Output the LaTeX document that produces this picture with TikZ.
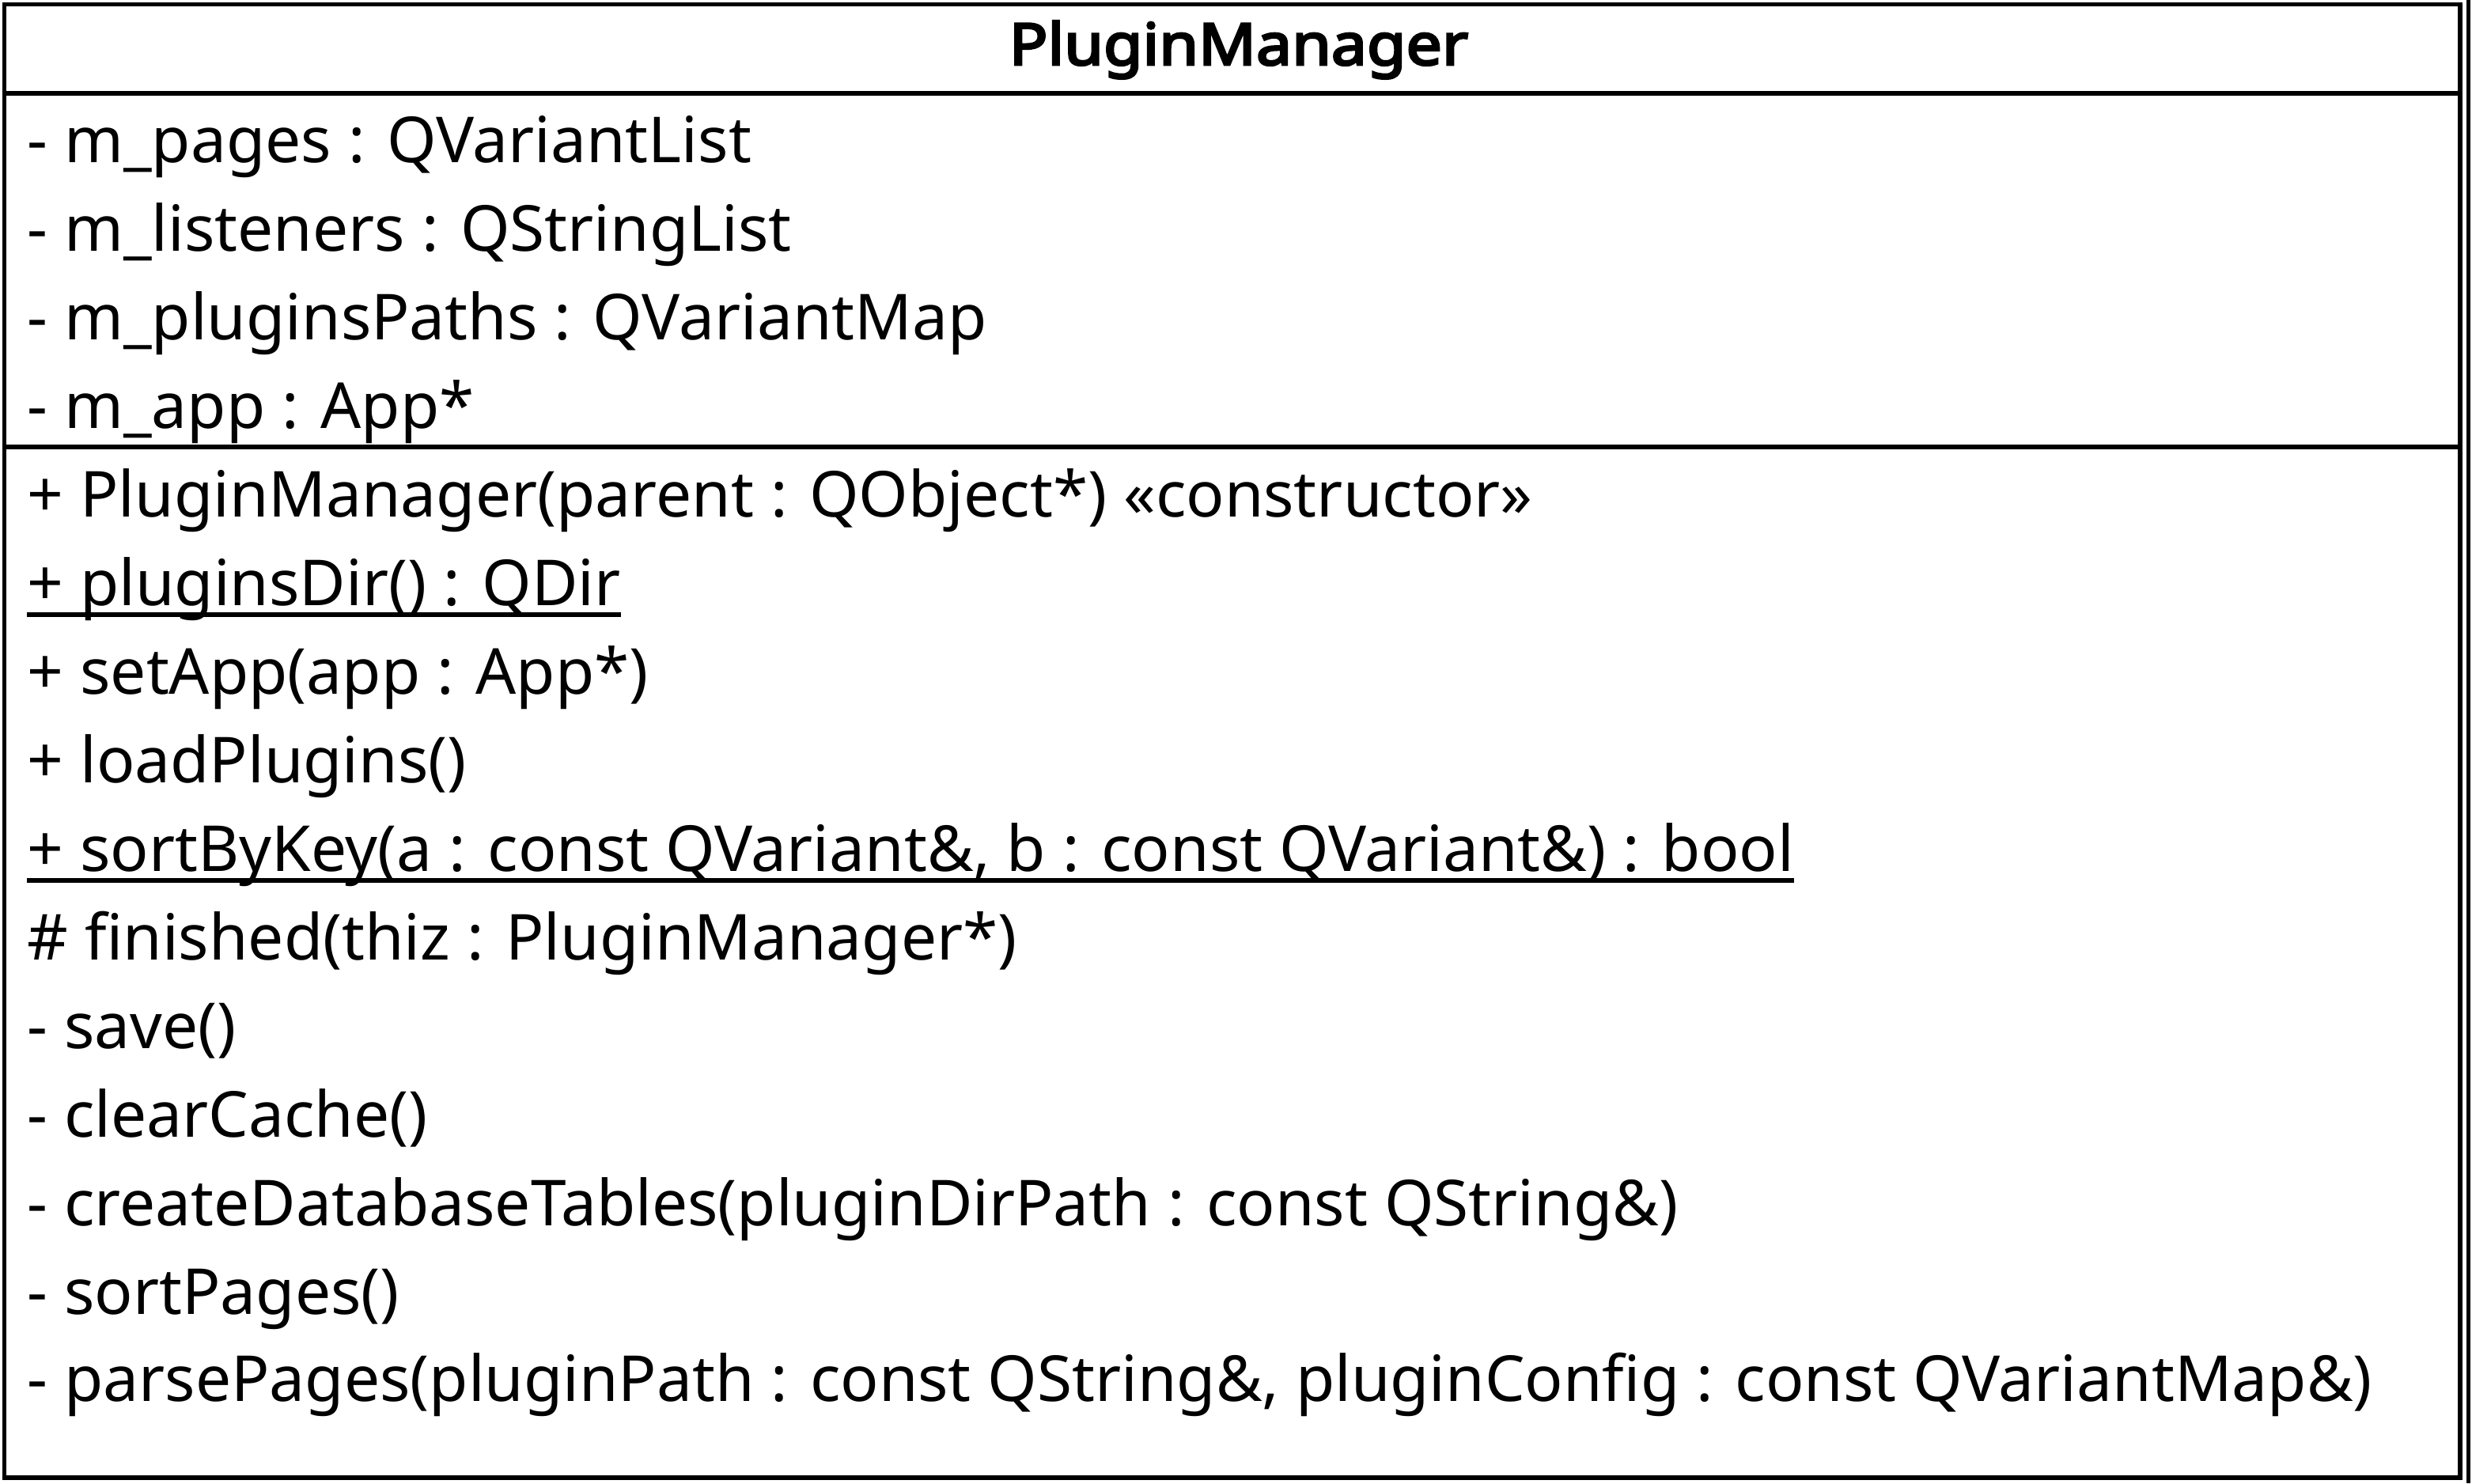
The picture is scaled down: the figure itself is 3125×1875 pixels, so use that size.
\documentclass[tikz,border=0pt]{standalone}
\usepackage{fontspec}
\setmainfont{Noto Sans}
\newfontfamily\titlefont{Noto Sans}[FakeBold=4,FakeStretch=1.1]
\begin{document}
\begin{tikzpicture}[x=0.01cm,y=-0.01cm,
  frame/.style={line width=0.055cm},
  txt/.style={anchor=base west,inner sep=0pt,font=\fontsize{22.8pt}{27pt}\selectfont},
  ttl/.style={anchor=base,inner sep=0pt,font=\titlefont\fontsize{20.8pt}{25pt}\selectfont},
  uline/.style={line width=0.055cm}]
\useasboundingbox (0,0) rectangle (3125,1875);
% class box
\draw[frame] (5.5,5.5) rectangle (3110,1868);
\draw[frame] (5.5,118) -- (3110,118);
\draw[frame] (5.5,565) -- (3110,565);
\draw[frame] (3120.5,0) -- (3120.5,1875);
% title
\node[ttl] (title) at (1566,82) {PluginManager};
% attributes
\node[txt] (a1) at (34,205) {- m\_pages : QVariantList};
\node[txt] (a2) at (34,317) {- m\_listeners : QStringList};
\node[txt] (a3) at (34,429) {- m\_pluginsPaths : QVariantMap};
\node[txt] (a4) at (34,541) {- m\_app : App*};
% operations
\node[txt] (m1) at (34,653) {+ PluginManager(parent : QObject*) «constructor»};
\node[txt] (m2) at (34,765) {+ pluginsDir() : QDir};
\node[txt] (m3) at (34,877) {+ setApp(app : App*)};
\node[txt] (m4) at (34,989) {+ loadPlugins()};
\node[txt] (m5) at (34,1101) {+ sortByKey(a : const QVariant\&, b : const QVariant\&) : bool};
\node[txt] (m6) at (34,1213) {\# finished(thiz : PluginManager*)};
\node[txt] (m7) at (34,1325) {- save()};
\node[txt] (m8) at (34,1437) {- clearCache()};
\node[txt] (m9) at (34,1549) {- createDatabaseTables(pluginDirPath : const QString\&)};
\node[txt] (m10) at (34,1661) {- sortPages()};
\node[txt] (m11) at (34,1771) {- parsePages(pluginPath : const QString\&, pluginConfig : const QVariantMap\&)};
% underlines for static members
\draw[uline] ([yshift=-0.12cm]m2.base west) -- ([yshift=-0.12cm]m2.base east);
\draw[uline] ([yshift=-0.12cm]m5.base west) -- ([yshift=-0.12cm]m5.base east);
\end{tikzpicture}
\end{document}
